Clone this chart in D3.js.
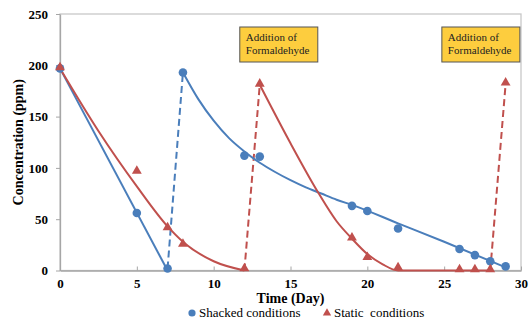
<!DOCTYPE html>
<html>
<head>
<meta charset="utf-8">
<script src="https://cdn.jsdelivr.net/npm/d3@7"></script>
<style>
  body { margin: 0; background: #fff; }
  svg { display: block; }
  svg text { font-family: "Liberation Serif", "Times New Roman", serif; }
</style>
</head>
<body>
<div id="chart"></div>
<script>
// measured points
const days = [0, 5, 7, 8, 12, 13, 19, 20, 22, 26, 27, 28, 29];
const shaken = [197, 56, 2, 193, 112, 111, 63, 58, 41, 21, 15, 9, 4];
const staticVals = [197, 96, 41, 25, 1, 181, 31, 12, 2, 0, 0, 0, 182];

// trend lines
const shakenFitA = [[0, 197], [7, 0]];
const shakenFitB = [[8, 193], [9, 167], [10, 146], [11, 129], [12, 116], [13, 105], [14, 96], [15, 88], [16, 81], [17, 75], [18, 69], [19, 64], [22, 46], [25, 28], [29, 3]];
const staticFitA = [[0, 197], [2.5, 136], [5, 82], [7, 43], [8, 28], [10, 9], [12, 0]];
const staticFitB = [[13, 181], [15, 124], [16.8, 76], [18, 48], [19, 31], [20, 16], [21, 6], [22, 0], [28, 0]];

// formaldehyde additions (dashed jumps)
const shakenJumps = [[[7, 2], [8, 193]]];
const staticJumps = [[[12, 0], [13, 181]], [[28, 0], [29, 182]]];

// note boxes, anchored by left edge (in days)
const notes = [{ day: 11.7, label: ['Addition of', 'Formaldehyde'] }, { day: 24.85, label: ['Addition of', 'Formaldehyde'] }];

const xTicks = [0, 5, 10, 15, 20, 25, 30];
const yTicks = [0, 50, 100, 150, 200, 250];

const blue = '#4a7ebb', red = '#c0504d';
const serif = '"Liberation Serif", "Times New Roman", serif';
const W = 532, H = 329;
const margin = { top: 14, right: 11, bottom: 58.5, left: 60 };
const width = W - margin.left - margin.right;
const height = H - margin.top - margin.bottom;

const svg = d3.select('#chart').append('svg').attr('width', W).attr('height', H)
  .attr('font-family', serif);
const g = svg.append('g').attr('transform', `translate(${margin.left},${margin.top})`);

const x = d3.scaleLinear().domain([0, 30]).range([0, width]);
const y = d3.scaleLinear().domain([0, 250]).range([height, 0]);

// frame
g.append('rect').attr('width', width).attr('height', height)
  .attr('fill', 'none').attr('stroke', '#c8c8c8').attr('stroke-width', 1.3);

const xAxis = g.append('g').attr('transform', `translate(0,${height})`)
  .call(d3.axisBottom(x).tickValues(xTicks).tickSizeInner(-4).tickSizeOuter(0).tickPadding(12));
const yAxis = g.append('g')
  .call(d3.axisLeft(y).tickValues(yTicks).tickSizeInner(4).tickSizeOuter(0).tickPadding(8));
[xAxis, yAxis].forEach(a => {
  a.attr('font-family', serif);
  a.select('.domain').attr('stroke', '#a6a6a6').attr('stroke-width', 1.3);
  a.selectAll('.tick line').attr('stroke', '#a6a6a6');
  a.selectAll('.tick text').attr('font-size', 13).attr('font-weight', 'bold').attr('fill', '#000');
});
xAxis.selectAll('.tick text').attr('dy', '0.4em');

const line = d3.line().x(d => x(d[0])).y(d => y(d[1]));
const smooth = d3.line().x(d => x(d[0])).y(d => y(d[1])).curve(d3.curveMonotoneX);

// dashed jumps
shakenJumps.forEach(seg => g.append('path').attr('d', line(seg)).attr('fill', 'none')
  .attr('stroke', blue).attr('stroke-width', 2).attr('stroke-dasharray', '7,4'));
staticJumps.forEach(seg => g.append('path').attr('d', line(seg)).attr('fill', 'none')
  .attr('stroke', red).attr('stroke-width', 2).attr('stroke-dasharray', '7,4'));

// trend lines
[[shakenFitA, blue], [shakenFitB, blue], [staticFitA, red], [staticFitB, red]].forEach(([pts, c]) => {
  g.append('path').attr('d', smooth(pts)).attr('fill', 'none').attr('stroke', c).attr('stroke-width', 2);
});

// markers
g.selectAll('.pt-shaken').data(days.map((d, i) => [d, shaken[i]])).join('circle')
  .attr('class', 'pt-shaken')
  .attr('cx', d => x(d[0])).attr('cy', d => y(d[1])).attr('r', 4.3).attr('fill', blue);

const tri = d3.symbol().type(d3.symbolTriangle).size(42);
g.selectAll('.pt-static').data(days.map((d, i) => [d, staticVals[i]])).join('path')
  .attr('class', 'pt-static')
  .attr('transform', d => `translate(${x(d[0])},${y(d[1]) - 1})`)
  .attr('d', tri).attr('fill', red);

// annotation boxes
const boxW = 78, boxH = 35;
notes.forEach(n => {
  const bg = g.append('g').attr('transform', `translate(${x(n.day)},13)`);
  bg.append('rect').attr('width', boxW).attr('height', boxH)
    .attr('fill', '#fdcd3e').attr('stroke', '#555').attr('stroke-width', 1);
  bg.append('text').attr('x', 6).attr('y', 14).attr('font-size', 11).attr('fill', '#222')
    .selectAll('tspan').data(n.label).join('tspan')
    .attr('x', 6).attr('dy', (d, i) => i ? 13 : 0).text(d => d);
});

// axis titles
svg.append('text').attr('x', margin.left + x(15)).attr('y', 303)
  .attr('text-anchor', 'middle').attr('font-size', 14).attr('font-weight', 'bold').text('Time (Day)');
svg.append('text').attr('transform', `translate(23,${margin.top + y(125)}) rotate(-90)`)
  .attr('text-anchor', 'middle').attr('font-size', 14).attr('font-weight', 'bold').text('Concentration (ppm)');

// legend
const leg = svg.append('g').attr('transform', 'translate(0,317)');
leg.append('circle').attr('cx', 192).attr('cy', -4).attr('r', 3.6).attr('fill', blue);
leg.append('text').attr('x', 199).attr('y', 0).attr('font-size', 13).text('Shacked conditions');
leg.append('path').attr('transform', 'translate(327,-4)').attr('d', d3.symbol().type(d3.symbolTriangle).size(30)).attr('fill', red);
leg.append('text').attr('x', 334).attr('y', 0).attr('font-size', 13).style('white-space', 'pre').text('Static  conditions');
</script>
</body>
</html>
